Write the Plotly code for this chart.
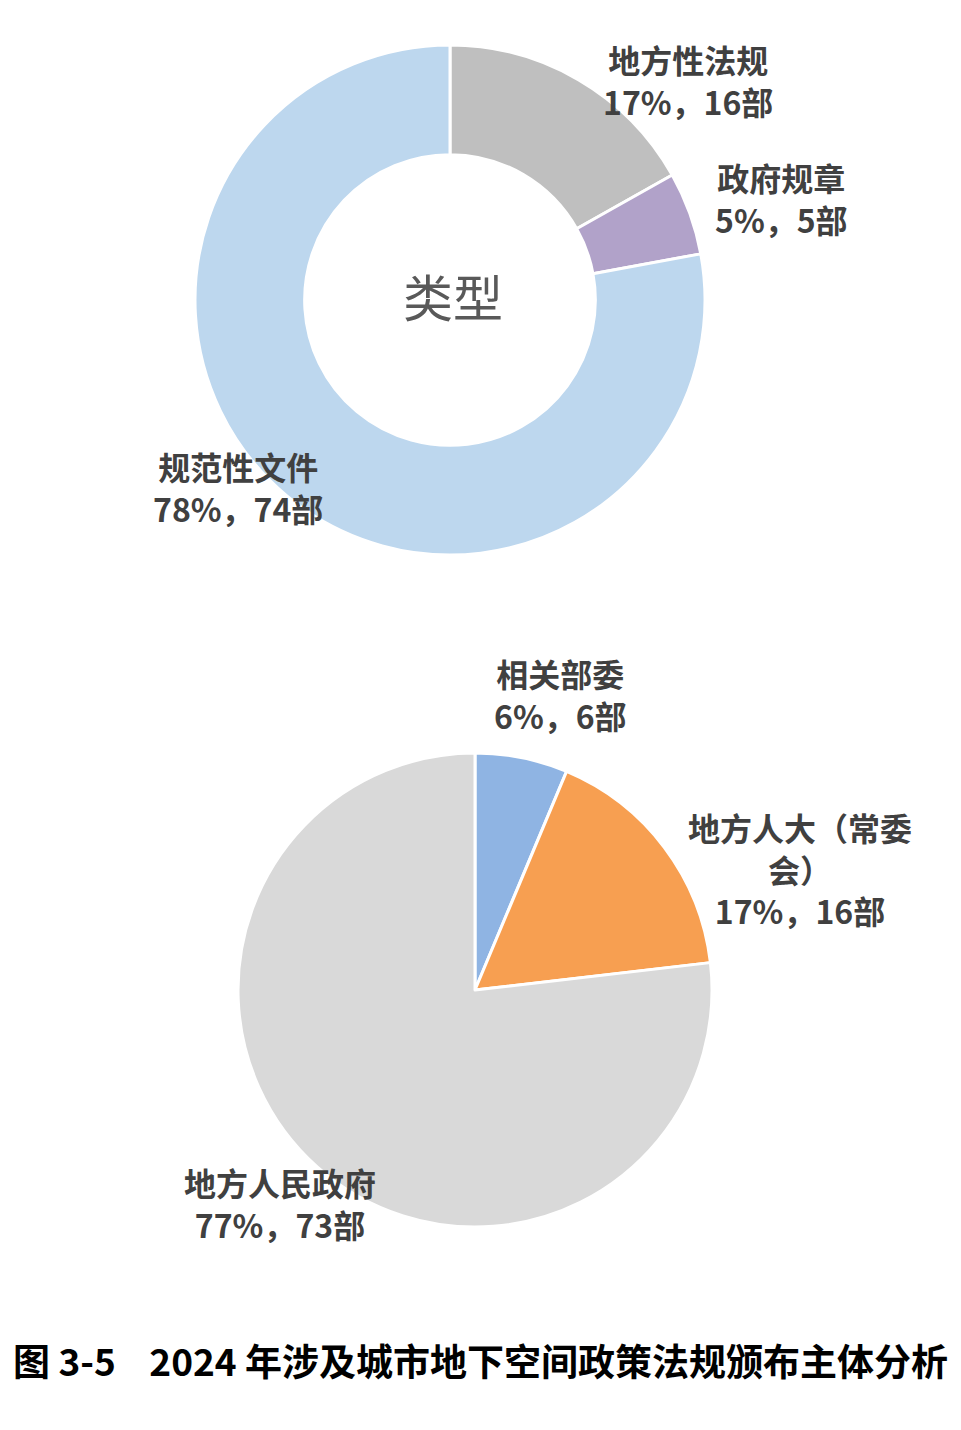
import plotly.graph_objects as go

# ---- data ----
type_labels = ["地方性法规", "政府规章", "规范性文件"]
type_counts = [16, 5, 74]
type_colors = ["#BFBFBF", "#B1A2C9", "#BDD7EE"]

body_labels = ["相关部委", "地方人大（常委会）", "地方人民政府"]
body_counts = [6, 16, 73]
body_colors = ["#8FB4E3", "#F79F51", "#D9D9D9"]

center_text = "类型"
caption = "图 3-5\u00a0\u00a0\u00a0\u00a02024 年涉及城市地下空间政策法规颁布主体分析"

W, H = 961, 1430


def px_dom(cx, cy, r):
    return dict(x=[(cx - r) / W, (cx + r) / W], y=[1 - (cy + r) / H, 1 - (cy - r) / H])


fig = go.Figure()
fig.add_trace(go.Pie(
    labels=type_labels, values=type_counts, sort=False, direction="clockwise",
    rotation=0, hole=0.57, textinfo="none", hoverinfo="label+value+percent",
    marker=dict(colors=type_colors, line=dict(color="white", width=3)),
    domain=px_dom(450, 300, 255), showlegend=False,
))
fig.add_trace(go.Pie(
    labels=body_labels, values=body_counts, sort=False, direction="clockwise",
    rotation=0, textinfo="none", hoverinfo="label+value+percent",
    marker=dict(colors=body_colors, line=dict(color="white", width=3)),
    domain=px_dom(475, 990, 237), showlegend=False,
))


def pct(v, tot):
    return round(v / tot * 100)


lab_font = dict(family="Noto Sans CJK SC", size=32, color="#404040", weight="bold")
annos = []


def add_label(text, cx, cy):
    annos.append(dict(x=cx / W, y=1 - cy / H, xref="paper", yref="paper", text=text,
                      showarrow=False, xanchor="center", yanchor="middle",
                      font=lab_font, align="center"))


t_tot = sum(type_counts)
type_pos = [(688, 80), (781, 198), (238, 487)]
for name, v, (x, y) in zip(type_labels, type_counts, type_pos):
    add_label(f"{name}<br>{pct(v, t_tot)}%，{v}部", x, y)

b_tot = sum(body_counts)
body_disp = ["相关部委", "地方人大（常委<br>会）", "地方人民政府"]
body_pos = [(560, 694), (800, 869), (280, 1203)]
for disp, v, (x, y) in zip(body_disp, body_counts, body_pos):
    add_label(f"{disp}<br>{pct(v, b_tot)}%，{v}部", x, y)

annos.append(dict(x=453 / W, y=1 - 295 / H, xref="paper", yref="paper", text=center_text,
                  showarrow=False, xanchor="center", yanchor="middle",
                  font=dict(family="Noto Sans CJK SC", size=50, color="#595959")))

annos.append(dict(x=0.5, y=1 - 1360 / H, xref="paper", yref="paper", text=caption,
                  showarrow=False, xanchor="center", yanchor="middle",
                  font=dict(family="Noto Sans CJK SC", size=37, color="#000000", weight="bold")))

fig.update_layout(
    width=W, height=H, margin=dict(l=0, r=0, t=0, b=0),
    paper_bgcolor="white", plot_bgcolor="white",
    annotations=annos,
)

fig.write_html("out.html")
